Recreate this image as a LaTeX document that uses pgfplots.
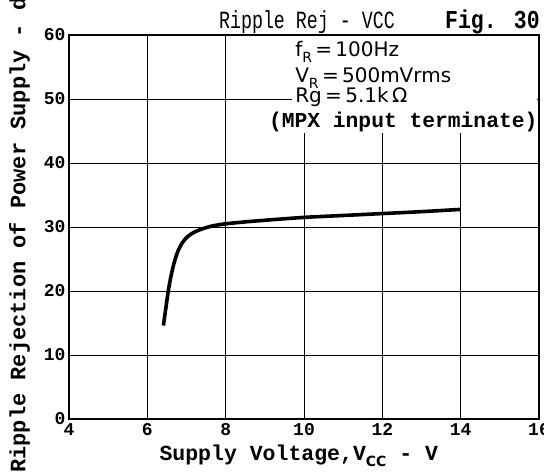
\documentclass[border=0pt]{standalone}
\usepackage{fontspec}
\setmainfont{Liberation Mono}
\setmonofont{Liberation Mono}
\newfontfamily\annfont{DejaVu Sans}
\usepackage{pgfplots}
\pgfplotsset{compat=1.18}

\newcommand\subs[1]{\raisebox{-6pt}{\annfont\fontsize{14}{14}\selectfont #1}}

\begin{document}
\begin{tikzpicture}[x=1pt,y=1pt]
\useasboundingbox (0,0) rectangle (544,472);
\begin{axis}[
  at={(69pt,53pt)}, anchor=south west,
  width=470pt, height=384pt, scale only axis,
  xmin=4, xmax=16, ymin=0, ymax=60,
  clip=false,
  xtick={4,6,...,16}, ytick={0,10,...,60},
  grid=major, grid style={black, line width=0.7pt},
  axis line style={line width=1.4pt},
  major tick length=0pt,
  tick label style={font=\fontsize{18}{18}\selectfont\bfseries, /pgf/number format/assume math mode=true},
  xticklabel style={inner sep=4pt},
  title={\scalebox{1}[1.35]{\fontsize{18.3}{20}\selectfont Ripple Rej - VCC}},
  every axis title/.style={at={(axis description cs:0.6936,1.0182)}, anchor=base east, inner sep=0pt},
  xlabel={\fontsize{21.5}{22}\selectfont\bfseries Supply Voltage,V\subs{CC} - V},
  every axis x label/.style={at={(axis description cs:0.489,-0.109)}, anchor=base, inner sep=0pt},
  ylabel={\fontsize{22}{22}\selectfont\bfseries Ripple Rejection of Power Supply - dB},
  every axis y label/.style={at={(axis description cs:-0.0926,-0.1406)}, rotate=90, anchor=base west, inner sep=0pt},
]
\addplot[black, line width=3.6pt, smooth] coordinates {
  (6.41,14.6) (6.47,17.2) (6.53,19.8) (6.60,22.2) (6.68,24.3) (6.78,26.2)
  (6.90,27.6) (7.03,28.5) (7.20,29.2) (7.40,29.7) (7.65,30.15) (8.0,30.5)
  (8.5,30.8) (9.0,31.05) (10,31.5) (11,31.8) (12,32.1) (13,32.4) (14,32.75)
};
\fill[white] (rel axis cs:0.474,0.745) rectangle (rel axis cs:0.996,0.997);
\node[anchor=base west, inner sep=0pt, font=\annfont\fontsize{20}{20}\selectfont]
  at (rel axis cs:0.481,0.943) {f\subs{R}\,=\,100Hz};
\node[anchor=base west, inner sep=0pt, font=\annfont\fontsize{20}{20}\selectfont]
  at (rel axis cs:0.481,0.875) {V\subs{R}\,=\,500mVrms};
\node[anchor=base west, inner sep=0pt, font=\annfont\fontsize{20}{20}\selectfont]
  at (rel axis cs:0.481,0.823) {Rg\,=\,5.1k\,Ω};
\node[anchor=base west, inner sep=1pt, fill=white, font=\fontsize{21.3}{22}\selectfont\bfseries]
  at (rel axis cs:0.423,0.758) {(MPX input terminate)};
\node[anchor=base east, inner sep=0pt, font=\fontsize{21.5}{22}\selectfont\bfseries]
  at (axis description cs:1.002,1.0182) {\scalebox{1}[1.2]{Fig. 30}};
\end{axis}
\end{tikzpicture}
\end{document}
